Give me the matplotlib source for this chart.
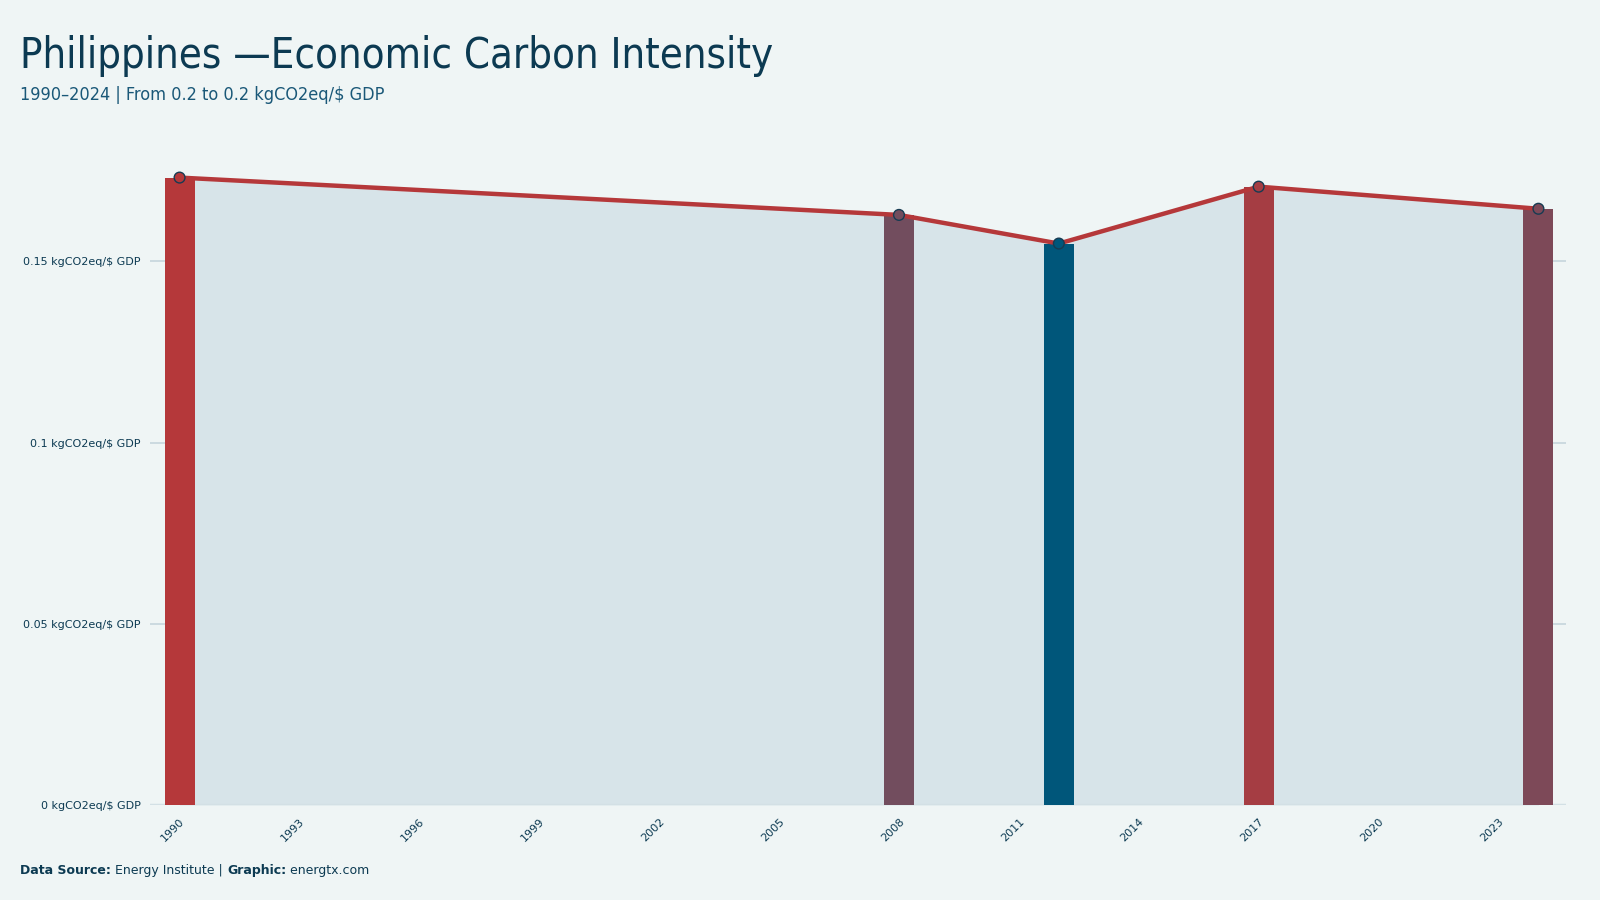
import matplotlib
matplotlib.use("Agg")
import matplotlib.pyplot as plt
from matplotlib.colors import LinearSegmentedColormap, Normalize

# data
years = [1990, 2008, 2012, 2017, 2024]
intensity = [0.1731, 0.1628, 0.1549, 0.1706, 0.1645]
xticks = list(range(1990, 2024, 3))
yticks = [0, 0.05, 0.1, 0.15]
ytick_labels = ["0 kgCO2eq/\\$ GDP", "0.05 kgCO2eq/\\$ GDP", "0.1 kgCO2eq/\\$ GDP", "0.15 kgCO2eq/\\$ GDP"]

title = "Philippines \u2014Economic Carbon Intensity"
subtitle = "1990\u20132024 | From 0.2 to 0.2 kgCO2eq/\\$ GDP"

bg = "#eff5f5"
dark = "#0c3a52"

cmap = LinearSegmentedColormap.from_list(
    "bluered", [(0, "#00567a"), (0.43, "#714d5e"), (1, "#b5383a")])
norm = Normalize(min(intensity), max(intensity))
colors = [cmap(norm(v)) for v in intensity]

fig = plt.figure(figsize=(16, 9), dpi=100, facecolor=bg)
ax = fig.add_axes([0.094, 0.1056, 0.885, 0.745])
ax.set_facecolor(bg)

ax.fill_between(years, intensity, color="#d7e4e9", zorder=1, lw=0)
ax.bar(years, intensity, width=0.75, color=colors, zorder=2)
ax.plot(years, intensity, color="#b5383a", lw=3.2, zorder=3,
        solid_capstyle="round")
ax.scatter(years, intensity, s=60, c=colors, edgecolors="#173b52",
           linewidths=1.0, zorder=4)

ax.set_xlim(1989.27, 2024.7)
ax.set_ylim(0, 0.185)
ax.set_yticks(yticks)
ax.set_yticklabels(ytick_labels)
ax.set_xticks(xticks)
ax.set_xticklabels([str(y) for y in xticks], rotation=45, ha="right",
                   rotation_mode="anchor")
ax.tick_params(axis="both", length=0, labelsize=8, labelcolor=dark)
ax.tick_params(axis="y", pad=7)
ax.tick_params(axis="x", pad=8)
ax.grid(axis="y", color="#c5d5dc", lw=1.2, zorder=0)
ax.set_axisbelow(True)
for s in ax.spines.values():
    s.set_visible(False)
ax.axhline(0, color="#d3e0e5", lw=2.5, zorder=1.5)

fig.text(0.0128, 0.924, title, fontsize=30, color=dark, family="DejaVu Sans",
         stretch="condensed", weight="light", va="baseline")
fig.text(0.0128, 0.889, subtitle, fontsize=13, color="#1a5878",
         family="DejaVu Sans", stretch="condensed", va="baseline")

# footer pieces placed one after another
renderer = fig.canvas.get_renderer()
x = 0.0128
parts = [("Data Source:", "bold"), (" Energy Institute | ", "normal"),
         ("Graphic:", "bold"), (" energtx.com", "normal")]
for txt, w in parts:
    t = fig.text(x, 0.029, txt, fontsize=9, color=dark, weight=w,
                 va="baseline")
    bb = t.get_window_extent(renderer)
    x += bb.width / fig.bbox.width

fig.savefig("out.png", dpi=100, facecolor=bg)
